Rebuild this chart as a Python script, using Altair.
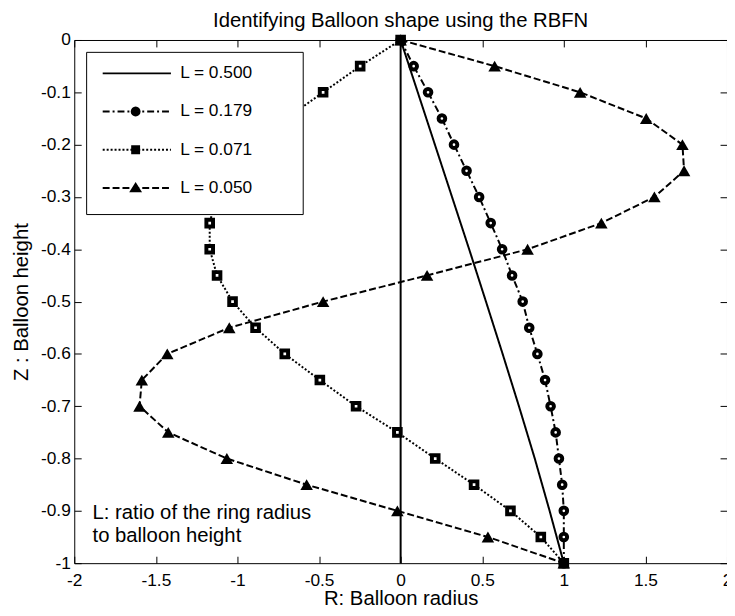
import math
import altair as alt
import pandas as pd

# ---------------- data ----------------
series_labels = ["L = 0.500", "L = 0.179", "L = 0.071", "L = 0.050"]

z_500 = [0.0, -0.1, -0.2, -0.3, -0.4, -0.5, -0.6, -0.7, -0.8, -0.9, -1.0]
r_500 = [0.0, 0.105, 0.21, 0.315, 0.42, 0.523, 0.625, 0.725, 0.822, 0.913, 1.0]

z_levels = [0.0, -0.05, -0.1, -0.15, -0.2, -0.25, -0.3, -0.35, -0.4, -0.45, -0.5,
            -0.55, -0.6, -0.65, -0.7, -0.75, -0.8, -0.85, -0.9, -0.95, -1.0]
r_179 = [0.0, 0.08, 0.168, 0.253, 0.327, 0.404, 0.481, 0.552, 0.622, 0.683, 0.748,
         0.788, 0.838, 0.885, 0.919, 0.95, 0.97, 0.99, 1.0, 1.0, 1.0]
r_071 = [0.0, -0.248, -0.475, -0.70, -0.90, -1.04, -1.13, -1.17, -1.17, -1.125, -1.03,
         -0.889, -0.71, -0.495, -0.273, -0.02, 0.212, 0.45, 0.673, 0.859, 1.0]
r_050 = [0.0, 0.576, 1.10, 1.505, 1.727, 1.737, 1.555, 1.23, 0.778, 0.162, -0.475,
         -1.05, -1.43, -1.586, -1.6, -1.424, -1.065, -0.576, -0.02, 0.535, 1.0]

axis_line_r = [0.0, 0.0]
axis_line_z = [0.0, -1.0]

x_ticks = [-2, -1.5, -1, -0.5, 0, 0.5, 1, 1.5, 2]
y_ticks = [0, -0.1, -0.2, -0.3, -0.4, -0.5, -0.6, -0.7, -0.8, -0.9, -1]

note_lines = ["L: ratio of the ring radius", "\u00a0to balloon height"]
note_r = [-1.888, -1.888]
note_z = [-0.9163, -0.9603]

title_text = "Identifying Balloon shape using the RBFN"
x_title = "R: Balloon radius"
y_title = "Z : Balloon height"

# ---------------- tables ----------------
rows = []
for lab, rs, zs in [(series_labels[0], r_500, z_500),
                    (series_labels[1], r_179, z_levels),
                    (series_labels[2], r_071, z_levels),
                    (series_labels[3], r_050, z_levels)]:
    for i, (r, z) in enumerate(zip(rs, zs)):
        rows.append({"series": lab, "idx": i, "r": r, "z": z})
df = pd.DataFrame(rows)

axis_df = pd.DataFrame({"r": axis_line_r, "z": axis_line_z, "idx": [0, 1]})
note_df = pd.DataFrame({"r": note_r, "z": note_z, "text": note_lines})

# ---------------- styles ----------------
FONT = "Liberation Sans"
xs = alt.Scale(domain=[-2, 2], nice=False)
ys = alt.Scale(domain=[-1, 0], nice=False)
inward = alt.ExprRef(expr="-7")
fmt = "replace(format(datum.value, '~g'), '\u2212', '-')"

dash = {
    series_labels[0]: [1, 0],
    series_labels[1]: [7, 3, 2, 3],
    series_labels[2]: [2, 2],
    series_labels[3]: [7, 3],
}

common_axis = dict(grid=False, domain=False, tickColor="black", tickWidth=1,
                   tickSize=inward, labelFont=FONT, labelFontSize=17.5,
                   labelColor="black", titleFont=FONT, titleFontSize=20.5,
                   titleFontWeight="normal", titleColor="black", minExtent=0,
                   labelFlush=False)

ax_bottom = alt.Axis(orient="bottom", values=x_ticks, title=x_title,
                     labelExpr=fmt, labelPadding=15.5,
                     titleX=330, titleY=42, titleBaseline="alphabetic",
                     titleAlign="center", **common_axis)
ax_left = alt.Axis(orient="left", values=y_ticks, title=y_title,
                   labelExpr=fmt, labelPadding=11,
                   titleX=-47, titleY=264.5, titleAngle=270,
                   titleBaseline="alphabetic", titleAlign="center",
                   **common_axis)
ax_top = alt.Axis(orient="top", values=x_ticks, title=None, labels=False,
                  grid=False, domain=False, tickColor="black", tickWidth=1,
                  tickSize=inward, minExtent=0, maxExtent=0)
ax_right = alt.Axis(orient="right", values=y_ticks, title=None, labels=False,
                    grid=False, domain=False, tickColor="black", tickWidth=1,
                    tickSize=inward, minExtent=0, maxExtent=0)


def series_df(lab):
    return df[df["series"] == lab]


def line_layer(lab, xaxis=None, yaxis=None):
    return alt.Chart(series_df(lab)).mark_line(
        color="black", strokeWidth=2, strokeDash=dash[lab]
    ).encode(
        x=alt.X("r:Q", scale=xs, axis=xaxis),
        y=alt.Y("z:Q", scale=ys, axis=yaxis),
        order="idx:Q",
    )


def point_layer(lab, **mark):
    return alt.Chart(series_df(lab)).mark_point(opacity=1, **mark).encode(
        x=alt.X("r:Q", scale=xs, axis=None),
        y=alt.Y("z:Q", scale=ys, axis=None),
    )


layer_500 = line_layer(series_labels[0], ax_bottom, ax_left)

axis_line = alt.Chart(axis_df).mark_line(color="black", strokeWidth=2).encode(
    x=alt.X("r:Q", scale=xs, axis=ax_top),
    y=alt.Y("z:Q", scale=ys, axis=ax_right),
    order="idx:Q",
)

lines = [line_layer(series_labels[i]) for i in (1, 2, 3)]

pts_179 = point_layer(series_labels[1], shape="circle", size=45, fill="white",
                      stroke="black", strokeWidth=4)
pts_071 = point_layer(series_labels[2], shape="square", size=45, fill="white",
                      stroke="black", strokeWidth=4)
pts_050 = point_layer(series_labels[3], shape="triangle-up", size=160,
                      filled=True, color="black")

notes = alt.Chart(note_df).mark_text(
    align="left", baseline="alphabetic", font=FONT, fontSize=20.5, color="black"
).encode(
    x=alt.X("r:Q", scale=xs, axis=None),
    y=alt.Y("z:Q", scale=ys, axis=None),
    text="text:N",
)

# ---------------- legend: line sample + marker drawn as one filled symbol path ----------------
# symbol units: 1 unit = 5 px, symbol centre 6 px from the entry start
def u(px):
    return (px - 6.0) / 5.0


def rect(x0, x1, half):
    return (f"M{u(x0):.3f},{-half / 5:.3f}L{u(x1):.3f},{-half / 5:.3f}"
            f"L{u(x1):.3f},{half / 5:.3f}L{u(x0):.3f},{half / 5:.3f}Z")


def dashed_sample(pattern, x0=1.0, x1=70.0, half=1.0):
    if pattern[1] == 0:
        return rect(x0, x1, half)
    out, pos, k = [], x0, 0
    while pos < x1:
        seg = pattern[k % len(pattern)]
        if k % 2 == 0:
            out.append(rect(pos, min(pos + seg, x1), half))
        pos += seg
        k += 1
    return "".join(out)


MC = 34.3  # marker centre, px


def circle_path(rad=5.0, n=16):
    pts = [(u(MC + rad * math.cos(2 * math.pi * k / n)), rad * math.sin(2 * math.pi * k / n) / 5)
           for k in range(n)]
    return "M" + "L".join(f"{a:.3f},{b:.3f}" for a, b in pts) + "Z"


square_path = rect(MC - 4.5, MC + 4.5, 4.5)
tri_path = (f"M{u(MC):.3f},-1.2L{u(MC + 6.5):.3f},0.9L{u(MC - 6.5):.3f},0.9Z")
extent = f"M{u(0):.3f},-1.8M{u(186):.3f},1.8"

legend_paths = [
    extent + dashed_sample(dash[series_labels[0]]),
    extent + dashed_sample(dash[series_labels[1]]) + circle_path(),
    extent + dashed_sample(dash[series_labels[2]]) + square_path,
    extent + dashed_sample(dash[series_labels[3]]) + tri_path,
]

leg = alt.Legend(title=None, orient="none", legendX=12, legendY=12,
                 direction="vertical", padding=13, rowPadding=11.6,
                 fillColor="white", strokeColor="black",
                 symbolSize=100, symbolStrokeWidth=2,
                 symbolFillColor="black",
                 labelFont=FONT, labelFontSize=17.5, labelColor="black",
                 labelOffset=64.6, labelLimit=300, cornerRadius=0)

legend_layer = alt.Chart(df).transform_filter("false").mark_point(
    filled=True, color="black", opacity=1
).encode(
    shape=alt.Shape("series:N", scale=alt.Scale(domain=series_labels, range=legend_paths),
                    legend=leg),
)

chart = alt.layer(
    layer_500, axis_line, *lines, pts_179, pts_071, pts_050, notes, legend_layer
).resolve_scale(x="shared", y="shared").resolve_axis(
    x="independent", y="independent"
).properties(
    width=660, height=529,
    autosize=alt.AutoSizeParams(type="none"),
    padding={"left": 67, "top": 29, "right": 0, "bottom": 44},
    title=alt.Title(title_text, font=FONT, fontSize=20.5, fontWeight="normal",
                    color="black", offset=-3, baseline="top",
                    anchor="middle"),
).configure_view(stroke="black", strokeWidth=1)

chart.save("out.html", embed_options={"renderer": "svg", "actions": False})
